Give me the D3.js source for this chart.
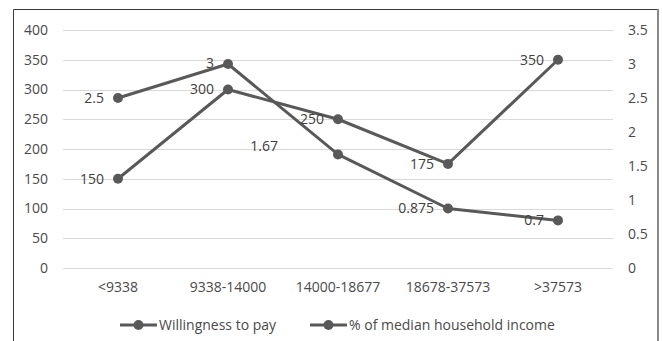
<!DOCTYPE html>
<html><head><meta charset="utf-8">
<script src="https://cdn.jsdelivr.net/npm/d3@7"></script>
<style>body{margin:0;background:#fff}svg{display:block;font-family:"Open Sans",Lato,sans-serif}</style>
</head><body><svg id="c" width="662" height="341"></svg>
<script>
const categories = ["<9338","9338-14000","14000-18677","18678-37573",">37573"];
const willingness = [150,300,250,175,350];
const pctIncome = [2.5,3,1.67,0.875,0.7];
const pctLabels = ["2.5","3","1.67","0.875","0.7"];
const leftTicks = [0,50,100,150,200,250,300,350,400];
const rightTicks = [0,0.5,1,1.5,2,2.5,3,3.5];
const seriesNames = ["Willingness to pay","% of median household income"];

const svg = d3.select("#c");
const W=662,H=341;
const plot = {l:63,r:613,t:30,b:268};
const x = d3.scaleBand().domain(categories).range([plot.l,plot.r]);
const yL = d3.scaleLinear().domain([0,400]).range([plot.b,plot.t]);
const yR = d3.scaleLinear().domain([0,3.5]).range([plot.b,plot.t]);
const cx = d=>x(d)+x.bandwidth()/2;
const lineCol="#595959", textCol="#4a4a4a", labCol="#404040";
const fs=14, ff="Open Sans";

// border
svg.append("line").attr("x1",13.5).attr("x2",658).attr("y1",9.5).attr("y2",9.5).attr("stroke","#3a3a3a").attr("stroke-width",1);
svg.append("line").attr("x1",13.5).attr("x2",13.5).attr("y1",9.5).attr("y2",H).attr("stroke","#3a3a3a").attr("stroke-width",1);
svg.append("line").attr("x1",658).attr("x2",658).attr("y1",9).attr("y2",H).attr("stroke","#8a8a8a").attr("stroke-width",2);

// gridlines
svg.append("g").selectAll("line").data(leftTicks).join("line")
  .attr("x1",plot.l).attr("x2",plot.r).attr("y1",d=>Math.round(yL(d))+0.5).attr("y2",d=>Math.round(yL(d))+0.5)
  .attr("stroke","#d9d9d9").attr("stroke-width",1);

// left axis
const gl = svg.append("g").attr("transform",`translate(${48},0)`)
  .call(d3.axisLeft(yL).tickValues(leftTicks).tickSize(0).tickPadding(0));
gl.select(".domain").remove();
gl.selectAll("text").attr("fill",textCol).style("font-size",fs+"px").style("font-family",ff);
// right axis
const gr = svg.append("g").attr("transform",`translate(${628},0)`)
  .call(d3.axisRight(yR).tickValues(rightTicks).tickSize(0).tickPadding(0).tickFormat(d=>String(d)));
gr.select(".domain").remove();
gr.selectAll("text").attr("fill",textCol).style("font-size",fs+"px").style("font-family",ff);
// x axis
const gx = svg.append("g").attr("transform",`translate(0,${282})`)
  .call(d3.axisBottom(x).tickSize(0).tickPadding(0));
gx.select(".domain").remove();
gx.selectAll("text").attr("fill",textCol).style("font-size",fs+"px").style("font-family",ff);

// lines
const lineL = d3.line().x((d,i)=>cx(categories[i])).y(d=>yL(d));
const lineR = d3.line().x((d,i)=>cx(categories[i])).y(d=>yR(d));
svg.append("path").attr("d",lineL(willingness)).attr("fill","none").attr("stroke",lineCol).attr("stroke-width",3).attr("stroke-linejoin","round");
svg.append("path").attr("d",lineR(pctIncome)).attr("fill","none").attr("stroke",lineCol).attr("stroke-width",3).attr("stroke-linejoin","round");
svg.append("g").selectAll("circle").data(willingness).join("circle")
  .attr("cx",(d,i)=>cx(categories[i])).attr("cy",d=>yL(d)).attr("r",5).attr("fill",lineCol);
svg.append("g").selectAll("circle").data(pctIncome).join("circle")
  .attr("cx",(d,i)=>cx(categories[i])).attr("cy",d=>yR(d)).attr("r",5).attr("fill",lineCol);

// data labels (left of points)
const nudgeR = [[0,0],[0,-1],[-46,-8],[0,0],[0,0]];
svg.append("g").selectAll("text").data(willingness).join("text")
  .attr("x",(d,i)=>cx(categories[i])-14).attr("y",d=>yL(d)).attr("dy","0.35em")
  .attr("text-anchor","end").attr("fill",labCol).style("font-size",fs+"px").text(d=>d);
svg.append("g").selectAll("text").data(pctIncome).join("text")
  .attr("x",(d,i)=>cx(categories[i])-14+nudgeR[i][0]).attr("y",(d,i)=>yR(d)+nudgeR[i][1]).attr("dy","0.35em")
  .attr("text-anchor","end").attr("fill",labCol).style("font-size",fs+"px").text((d,i)=>pctLabels[i]);

// legend
const legX=[120,310], legY=325;
const lg = svg.append("g").selectAll("g").data(seriesNames).join("g").attr("transform",(d,i)=>`translate(${legX[i]},${legY})`);
lg.append("line").attr("x1",0).attr("x2",37).attr("stroke",lineCol).attr("stroke-width",3);
lg.append("circle").attr("cx",18.5).attr("r",5).attr("fill",lineCol);
lg.append("text").attr("x",39).attr("dy","0.35em").attr("fill",textCol).style("font-size",fs+"px").text(d=>d);
</script></body></html>
